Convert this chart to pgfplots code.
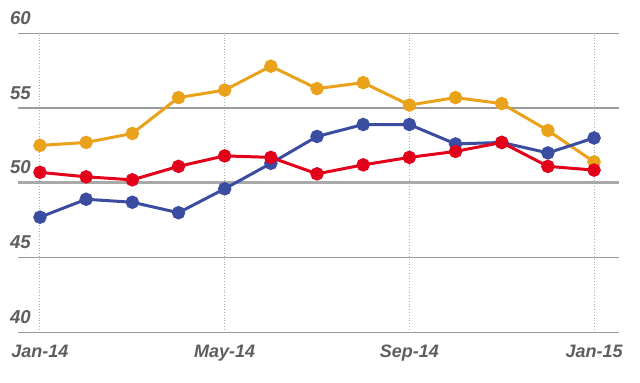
\documentclass[border=0pt]{standalone}
\usepackage{pgfplots}
\pgfplotsset{compat=1.18}
\usepackage{fontspec}
\setmainfont{Liberation Sans}
\definecolor{cOr}{HTML}{EAA21B}
\definecolor{cRed}{HTML}{E2001A}
\definecolor{cBlue}{HTML}{3A4DA1}
\definecolor{cGrid}{HTML}{9A9A9A}
\definecolor{cText}{HTML}{5E5E5E}
\begin{document}
\begin{tikzpicture}
\useasboundingbox (0,0) rectangle (320pt,191pt);
\begin{axis}[
  at={(9pt,24.85pt)}, anchor=south west,
  scale only axis, width=300.5pt, height=149.5pt,
  xmin=-0.476, xmax=12.54, ymin=40, ymax=60,
  clip=false,
  axis line style={draw=none},
  major tick length=0pt,
  xtick={0,4,8,12},
  xticklabels={Jan-14,May-14,Sep-14,Jan-15},
  ytick={40,45,50,55,60},
  /pgf/number format/assume math mode=true,
  ticklabel style={font=\fontsize{9}{10}\selectfont\bfseries\itshape, text=cText},
  xticklabel style={anchor=north, yshift=-3pt},
  yticklabel style={anchor=south west, xshift=-7.5pt, yshift=0.8pt, font=\fontsize{9.3}{11}\selectfont\bfseries\itshape},
  xmajorgrids, ymajorgrids,
  major x grid style={draw=cGrid!80, densely dotted, line width=0.5pt},
  major y grid style={draw=cGrid, line width=0.7pt},
  mark size=2.6pt,
  every axis plot/.append style={line width=1.5pt},
]
\draw[draw=cGrid!85, line width=1.6pt] (axis cs:-0.476,50) -- (axis cs:12.54,50);
\addplot[color=cOr, mark=*, mark options={fill=cOr}] coordinates {
(0,52.5) (1,52.7) (2,53.3) (3,55.7) (4,56.2) (5,57.8) (6,56.3) (7,56.7) (8,55.2) (9,55.7) (10,55.3) (11,53.5) (12,51.4)};
\addplot[color=cBlue, mark=*, mark options={fill=cBlue}] coordinates {
(0,47.7) (1,48.9) (2,48.7) (3,48.0) (4,49.6) (5,51.3) (6,53.1) (7,53.9) (8,53.9) (9,52.6) (10,52.7) (11,52.0) (12,53.0)};
\addplot[color=cRed, mark=*, mark options={fill=cRed}] coordinates {
(0,50.7) (1,50.4) (2,50.2) (3,51.1) (4,51.8) (5,51.7) (6,50.6) (7,51.2) (8,51.7) (9,52.1) (10,52.7) (11,51.1) (12,50.85)};
\end{axis}
\end{tikzpicture}
\end{document}
